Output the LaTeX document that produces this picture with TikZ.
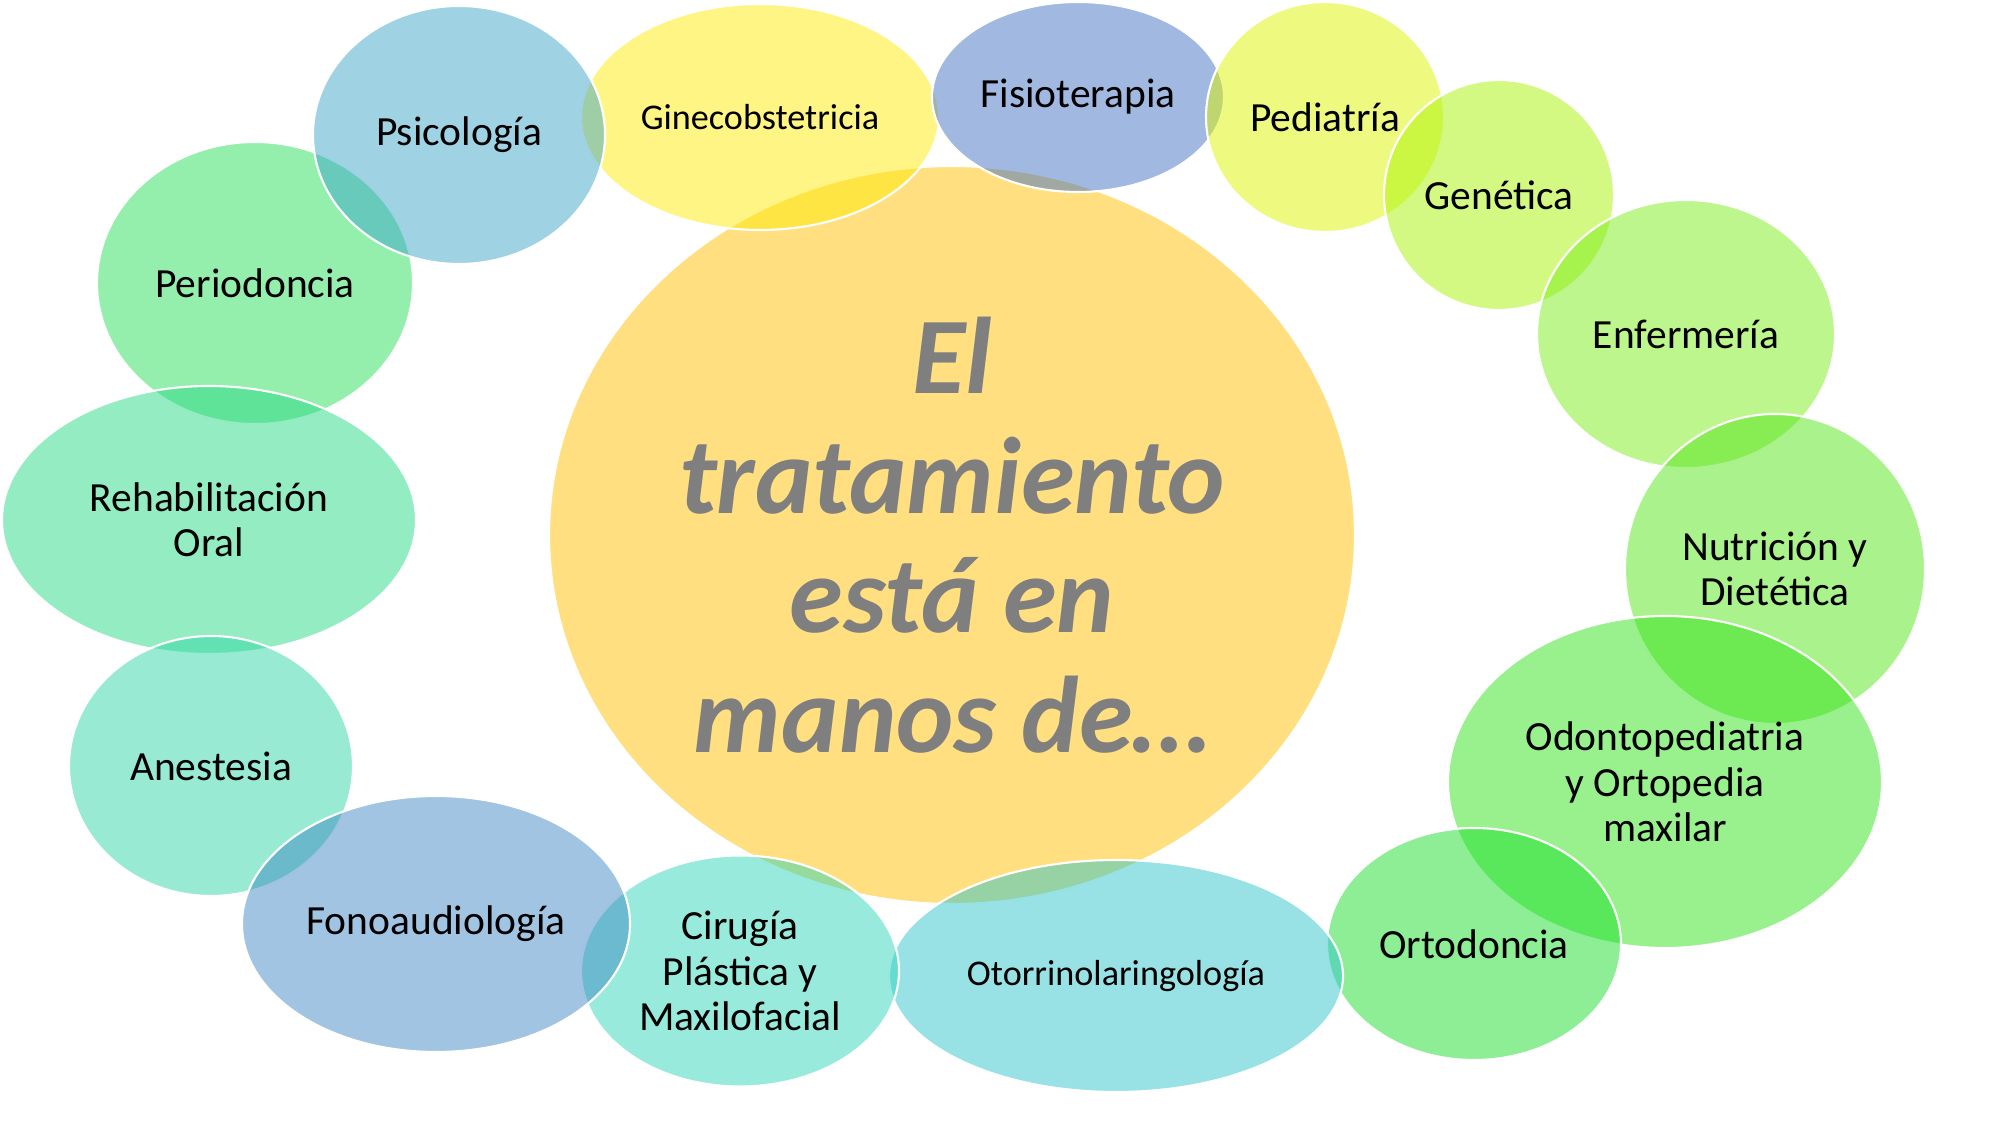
\documentclass[tikz,border=0pt]{standalone}
\usepackage{fontspec}
\setmainfont{Carlito}
\usepackage{xcolor}
\definecolor{centro}{HTML}{FFC000}
\definecolor{gine}{HTML}{FFEB0B}
\definecolor{psico}{HTML}{3FA7C9}
\definecolor{fisio}{HTML}{4472C4}
\definecolor{pedia}{HTML}{DDF500}
\definecolor{gene}{HTML}{A9F307}
\definecolor{enfer}{HTML}{79ED19}
\definecolor{nutri}{HTML}{55E519}
\definecolor{odonto}{HTML}{31E319}
\definecolor{orto}{HTML}{1DDD2D}
\definecolor{otorri}{HTML}{31C5CD}
\definecolor{ciru}{HTML}{31D7B9}
\definecolor{fono}{HTML}{4189C5}
\definecolor{anest}{HTML}{31D7A5}
\definecolor{rehab}{HTML}{29D985}
\definecolor{perio}{HTML}{29DD59}
\definecolor{gristexto}{HTML}{7F7F7F}
\usepackage{tikz}
\usetikzlibrary{shapes.geometric}

\begin{document}
\begin{tikzpicture}[
  burbuja/.style={ellipse, draw=white, line width=0.6pt, fill opacity=0.5,
    text opacity=1, inner sep=0pt, align=center,
    font=\fontsize{11.8}{12.9}\selectfont},
  chica/.style={font=\fontsize{10.3}{12}\selectfont}]
  \useasboundingbox (0,0) rectangle (20.01,11.26);
  % Centro
  \node[burbuja, fill=centro, minimum width=8.06cm, minimum height=7.38cm,
    font=\fontsize{31}{34}\selectfont\bfseries\itshape, text=gristexto]
    (centro) at (9.52,5.91) {El\\tratamiento\\está en\\manos de…};
  % Lado derecho
  \node[burbuja, chica, fill=gine, minimum width=3.58cm, minimum height=2.26cm]
    (gine) at (7.60,10.09) {Ginecobstetricia};
  \node[burbuja, fill=fisio, minimum width=2.92cm, minimum height=1.90cm]
    (fisio) at (10.78,10.29) {Fisioterapia};
  \node[burbuja, fill=pedia, minimum width=2.38cm, minimum height=2.30cm]
    (pedia) at (13.25,10.09) {Pediatría};
  \node[burbuja, fill=gene, minimum width=2.30cm, minimum height=2.30cm]
    (gene) at (14.99,9.31) {Genética};
  \node[burbuja, fill=enfer, minimum width=2.98cm, minimum height=2.68cm]
    (enfer) at (16.86,7.92) {Enfermería};
  \node[burbuja, fill=nutri, minimum width=3.00cm, minimum height=3.10cm]
    (nutri) at (17.75,5.57) {Nutrición y\\Dietética};
  \node[burbuja, fill=odonto, minimum width=4.34cm, minimum height=3.32cm]
    (odonto) at (16.65,3.44) {Odontopediatria\\y Ortopedia\\maxilar};
  \node[burbuja, fill=orto, minimum width=2.94cm, minimum height=2.32cm]
    (orto) at (14.74,1.82) {Ortodoncia};
  \node[burbuja, chica, fill=otorri, minimum width=4.54cm, minimum height=2.32cm]
    (otorri) at (11.16,1.50) {Otorrinolaringología};
  % Lado izquierdo
  \node[burbuja, fill=ciru, minimum width=3.18cm, minimum height=2.31cm]
    (ciru) at (7.40,1.55) {Cirugía\\Plástica y\\Maxilofacial};
  \node[burbuja, fill=perio, minimum width=3.16cm, minimum height=2.82cm]
    (perio) at (2.55,8.43) {Periodoncia};
  \node[burbuja, fill=psico, minimum width=2.92cm, minimum height=2.58cm]
    (psico) at (4.59,9.91) {Psicología};
  \node[burbuja, fill=rehab, minimum width=4.14cm, minimum height=2.68cm]
    (rehab) at (2.09,6.06) {Rehabilitación\\Oral};
  \node[burbuja, fill=anest, minimum width=2.84cm, minimum height=2.60cm]
    (anest) at (2.11,3.60) {Anestesia};
  \node[burbuja, fill=fono, minimum width=3.88cm, minimum height=2.56cm]
    (fono) at (4.36,2.02) {Fonoaudiología};
\end{tikzpicture}
\end{document}
